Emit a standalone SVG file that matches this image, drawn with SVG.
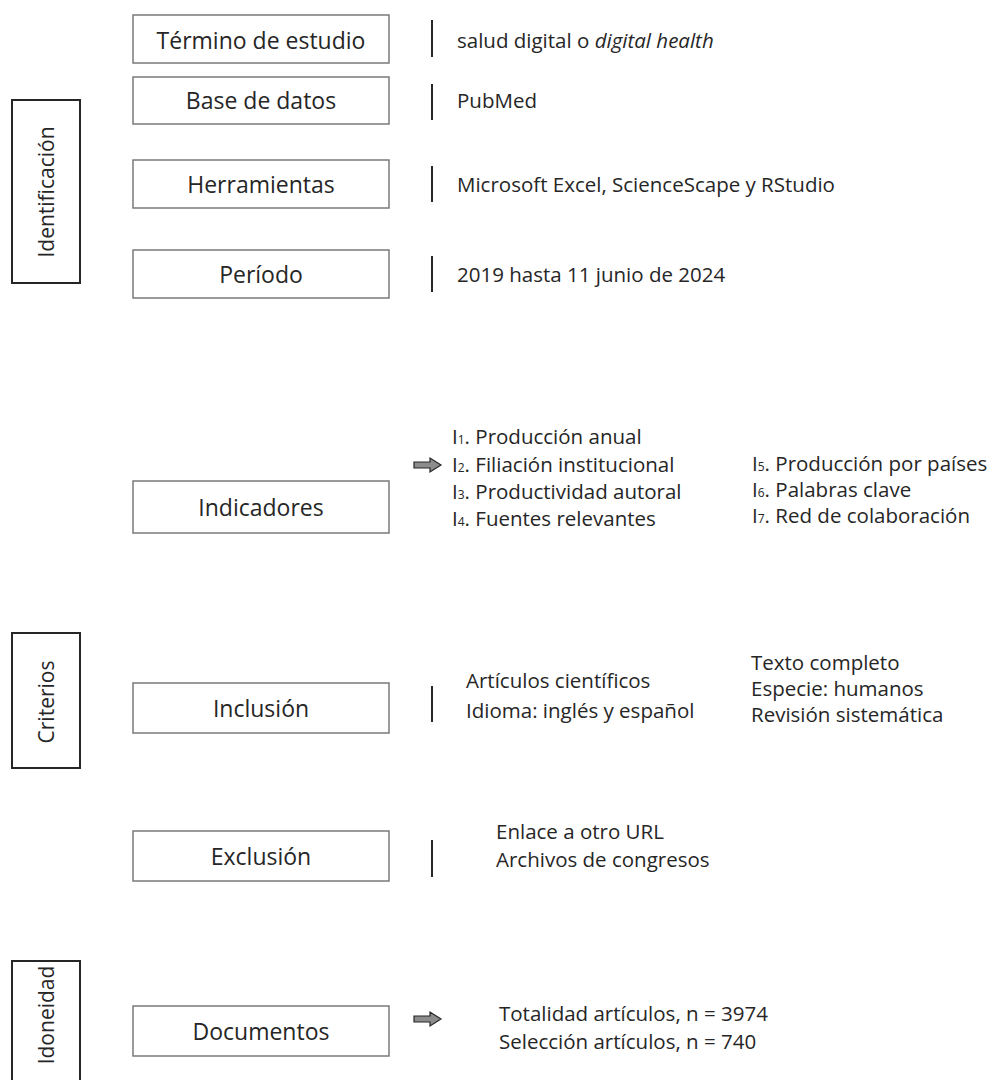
<svg xmlns="http://www.w3.org/2000/svg" width="997" height="1080" viewBox="0 0 997 1080">
<style>
text{font-family:"Open Sans","Noto Sans","Liberation Sans",sans-serif;font-size:20.5px;fill:#262626}
.lab{font-size:23px}
.vs{font-size:21px}
.box{fill:#fff;stroke:#7a7a7a;stroke-width:1.5}
.side{fill:#fff;stroke:#262626;stroke-width:2}
.bar{stroke:#262626;stroke-width:2}
.c{text-anchor:middle;dominant-baseline:central}
.l{dominant-baseline:central}
.arr{fill:#8c8c8c;stroke:#262626;stroke-width:1.2}
.sub{font-size:12px}
</style>
<defs>
<path id="blockarrow" class="arr" d="M0,-3 H16 V-7 L27,0 L16,7 V3 H0 Z"/>
</defs>
<rect width="997" height="1080" fill="#fff"/>

<g id="identificacion"><rect class="side" x="12" y="100" width="68" height="183"/><text class="c vs" transform="translate(46,192) rotate(-90)">Identificación</text></g>
<g id="criterios"><rect class="side" x="12" y="633" width="68" height="135"/><text class="c vs" transform="translate(46,702) rotate(-90)">Criterios</text></g>
<g id="idoneidad"><rect class="side" x="12" y="961" width="68" height="130"/><text class="c vs" transform="translate(46,1015) rotate(-90)">Idoneidad</text></g>

<g id="termino"><rect class="box" x="133" y="15" width="256" height="48"/><text class="c lab" x="261" y="40">Término de estudio</text></g>
<g id="base"><rect class="box" x="133" y="77" width="256" height="47"/><text class="c lab" x="261" y="100">Base de datos</text></g>
<g id="herramientas"><rect class="box" x="133" y="160" width="256" height="48"/><text class="c lab" x="261" y="184">Herramientas</text></g>
<g id="periodo"><rect class="box" x="133" y="250" width="256" height="48"/><text class="c lab" x="261" y="274">Período</text></g>
<g id="indicadores"><rect class="box" x="133" y="481" width="256" height="52"/><text class="c lab" x="261" y="507">Indicadores</text></g>
<g id="inclusion"><rect class="box" x="133" y="683" width="256" height="50"/><text class="c lab" x="261" y="708">Inclusión</text></g>
<g id="exclusion"><rect class="box" x="133" y="831" width="256" height="50"/><text class="c lab" x="261" y="856">Exclusión</text></g>
<g id="documentos"><rect class="box" x="133" y="1006" width="256" height="50"/><text class="c lab" x="261" y="1031">Documentos</text></g>

<g id="connectors">
<line class="bar" x1="432" y1="20" x2="432" y2="57"/>
<line class="bar" x1="432" y1="84" x2="432" y2="120"/>
<line class="bar" x1="432" y1="166" x2="432" y2="202"/>
<line class="bar" x1="432" y1="256" x2="432" y2="292"/>
<line class="bar" x1="432" y1="686" x2="432" y2="722"/>
<line class="bar" x1="432" y1="840" x2="432" y2="877"/>
<use href="#blockarrow" x="414" y="465"/>
<use href="#blockarrow" x="414" y="1019"/>
</g>

<g id="texts">
<text class="l" x="457" y="40">salud digital o <tspan font-style="italic">digital health</tspan></text>
<text class="l" x="457" y="100">PubMed</text>
<text class="l" x="457" y="184">Microsoft Excel, ScienceScape y RStudio</text>
<text class="l" x="457" y="274">2019 hasta 11 junio de 2024</text>
<text class="l" x="452" y="436">I<tspan class="sub" dy="3">1</tspan><tspan dy="-3">. Producción anual</tspan></text>
<text class="l" x="452" y="464">I<tspan class="sub" dy="3">2</tspan><tspan dy="-3">. Filiación institucional</tspan></text>
<text class="l" x="452" y="491">I<tspan class="sub" dy="3">3</tspan><tspan dy="-3">. Productividad autoral</tspan></text>
<text class="l" x="452" y="518">I<tspan class="sub" dy="3">4</tspan><tspan dy="-3">. Fuentes relevantes</tspan></text>
<text class="l" x="752" y="463">I<tspan class="sub" dy="3">5</tspan><tspan dy="-3">. Producción por países</tspan></text>
<text class="l" x="752" y="489">I<tspan class="sub" dy="3">6</tspan><tspan dy="-3">. Palabras clave</tspan></text>
<text class="l" x="752" y="515">I<tspan class="sub" dy="3">7</tspan><tspan dy="-3">. Red de colaboración</tspan></text>
<text class="l" x="466" y="680">Artículos científicos</text>
<text class="l" x="466" y="710">Idioma: inglés y español</text>
<text class="l" x="751" y="662">Texto completo</text>
<text class="l" x="751" y="688">Especie: humanos</text>
<text class="l" x="751" y="714">Revisión sistemática</text>
<text class="l" x="496" y="831">Enlace a otro URL</text>
<text class="l" x="496" y="859">Archivos de congresos</text>
<text class="l" x="499" y="1013">Totalidad artículos, n = 3974</text>
<text class="l" x="499" y="1041">Selección artículos, n = 740</text>
</g>
</svg>
